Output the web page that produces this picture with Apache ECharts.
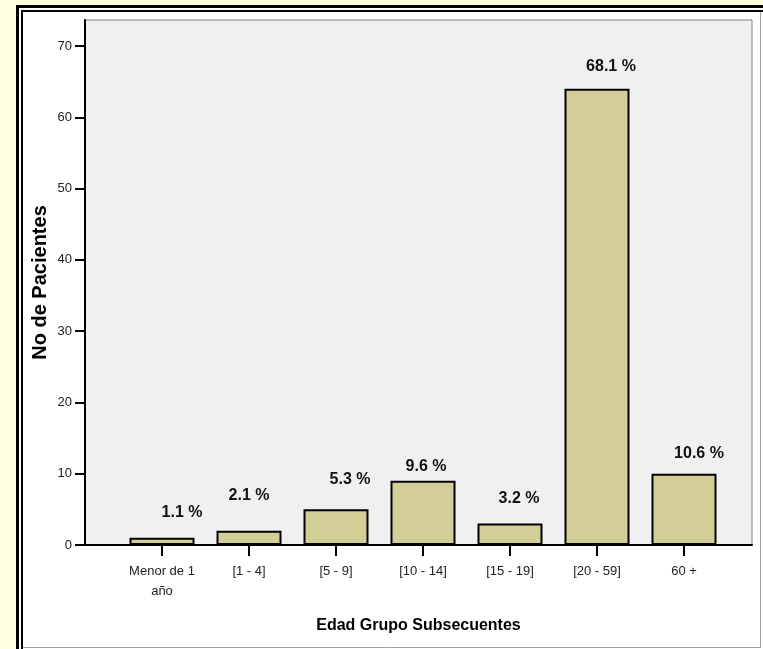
<!DOCTYPE html>
<html>
<head>
<meta charset="utf-8">
<script src="https://cdn.jsdelivr.net/npm/echarts@6/dist/echarts.min.js"></script>
<style>
  html, body { margin: 0; padding: 0; background: #ffffe0; }
  #chart { width: 763px; height: 649px; }
</style>
</head>
<body>
<div id="chart"></div>
<script>
// Patients by age group (follow-up visits)
const categories = ['Menor de 1\naño', '[1 - 4]', '[5 - 9]', '[10 - 14]', '[15 - 19]', '[20 - 59]', '60 +'];
const patients = [1, 2, 5, 9, 3, 64, 10];
const yTickValues = [0, 10, 20, 30, 40, 50, 60, 70];
const yMax = 73.65;

const total = patients.reduce((a, b) => a + b, 0);
const percentText = patients.map(v => (v / total * 100).toFixed(1) + ' %');

const FONT = "'Liberation Sans', Arial, sans-serif";

// per-bar nudges of the percentage labels
const labelNudge = [[20, -16.5], [0, -26.5], [14, -20.5], [3, -5.5], [9, -16.5], [14, -13.5], [15, -11.5]];

const chart = echarts.init(document.getElementById('chart'), null, { renderer: 'canvas' });

chart.setOption({
  backgroundColor: '#ffffe0',
  animation: false,
  graphic: [
    { type: 'rect', z: -100, silent: true,
      shape: { x: 17.5, y: 6.5, width: 800, height: 700 },
      style: { fill: '#ffffff', stroke: '#000000', lineWidth: 3 } },
    { type: 'rect', z: -99, silent: true,
      shape: { x: 22, y: 11, width: 800, height: 700 },
      style: { fill: '#ffffff', stroke: '#000000', lineWidth: 2 } },
    { type: 'polyline', z: -98, silent: true,
      shape: { points: [[760.5, 12], [760.5, 647.5], [23, 647.5]] },
      style: { fill: null, stroke: '#a0a0a0', lineWidth: 1 } }
  ],
  grid: [
    { left: 85, top: 20, right: 11, bottom: 104, show: true,
      backgroundColor: '#f0f0f0', borderColor: '#808080', borderWidth: 1 },
    { left: 118.5, top: 20, width: 609, bottom: 104 }
  ],
  xAxis: [
    { type: 'value', gridIndex: 0, min: 0, max: 1,
      axisLine: { show: true, lineStyle: { color: '#000', width: 2 } },
      axisTick: { show: false }, axisLabel: { show: false }, splitLine: { show: false },
      name: 'Edad Grupo Subsecuentes', nameLocation: 'middle', nameGap: 73,
      nameTextStyle: { fontFamily: FONT, fontWeight: 'bold', fontSize: 16, color: '#000' } },
    { type: 'category', gridIndex: 1, data: categories,
      axisLine: { show: false },
      axisTick: { show: true, alignWithLabel: true, length: 11, lineStyle: { color: '#000', width: 2 } },
      axisLabel: { interval: 0, margin: 16, fontFamily: FONT, fontSize: 13, color: '#222', lineHeight: 20 } }
  ],
  yAxis: [
    { type: 'value', gridIndex: 0, min: 0, max: yMax,
      axisLine: { show: true, lineStyle: { color: '#000', width: 2 } },
      axisTick: { show: true, length: 10, customValues: yTickValues, lineStyle: { color: '#000', width: 2 } },
      axisLabel: { margin: 13, customValues: yTickValues, fontFamily: FONT, fontSize: 13, color: '#222' },
      splitLine: { show: false },
      name: 'No de Pacientes', nameLocation: 'middle', nameGap: 35, nameRotate: 90,
      nameMoveOverlap: false,
      nameTextStyle: { fontFamily: FONT, fontWeight: 'bold', fontSize: 20, color: '#000' } },
    { type: 'value', gridIndex: 1, min: 0, max: yMax, show: false }
  ],
  series: [{
    type: 'bar', xAxisIndex: 1, yAxisIndex: 1,
    barWidth: 65,
    itemStyle: { color: '#d3ce98', borderColor: '#000', borderWidth: 2 },
    data: patients.map((v, i) => ({
      value: v,
      label: { offset: labelNudge[i] }
    })),
    label: {
      show: true, position: 'top', distance: 0,
      formatter: p => percentText[p.dataIndex],
      fontFamily: FONT, fontWeight: 'bold', fontSize: 16, lineHeight: 18, color: '#111'
    }
  }]
});
</script>
</body>
</html>
